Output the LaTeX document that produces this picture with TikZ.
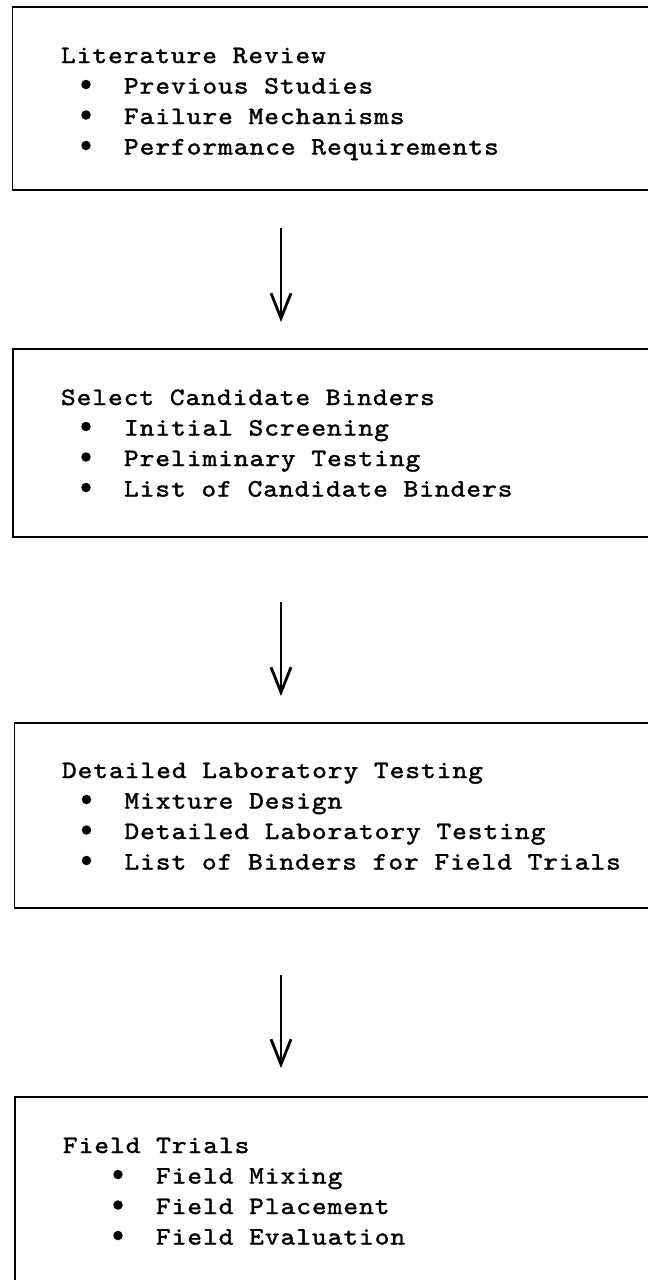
\documentclass[tikz,border=0pt]{standalone}
\usepackage{fontspec}
\newfontfamily\tw{lmmono10-regular.otf}[FakeStretch=1.12,LetterSpace=4.0,FakeBold=1.6]
\usetikzlibrary{arrows.meta}
\begin{document}
\begin{tikzpicture}[x=1pt,y=-1pt,
  box/.style={draw, line width=1.8pt, anchor=north west, minimum width=720pt, inner sep=0pt, outer sep=0pt},
  txt/.style={anchor=base west, inner sep=0pt, outer sep=0pt, font=\tw\fontsize{25}{29}\selectfont},
  bul/.style={circle, fill, inner sep=0pt, minimum size=9.5pt},
  arr/.style={line width=1.6pt, -{Straight Barb[length=25pt,width=20pt,line width=2.8pt]}}]
\path[use as bounding box, clip] (0,0) rectangle (648,1280);
\fill[white] (0,0) rectangle (648,1280);
% boxes
\node[box, minimum height=183pt] (b1) at (12.5,7) {};
\node[box, minimum height=188pt] (b2) at (13,349) {};
\node[box, minimum height=185pt] (b3) at (14.5,723) {};
\node[box, minimum height=250pt] (b4) at (15,1097) {};
% box 1
\node[txt] (t1) at (61,63) {Literature Review};
\node[bul] (d11) at (86,84.5) {};   \node[txt] (t11) at (124,93.5) {Previous Studies};
\node[bul] (d12) at (86,115) {};\node[txt] (t12) at (124,124) {Failure Mechanisms};
\node[bul] (d13) at (86,145.5) {};  \node[txt] (t13) at (124,154.5) {Performance Requirements};
% box 2
\node[txt] (t2) at (61,405) {Select Candidate Binders};
\node[bul] (d21) at (86,426.5) {};  \node[txt] (t21) at (124,435.5) {Initial Screening};
\node[bul] (d22) at (86,457) {};\node[txt] (t22) at (124,466) {Preliminary Testing};
\node[bul] (d23) at (86,487.5) {};  \node[txt] (t23) at (124,496.5) {List of Candidate Binders};
% box 3
\node[txt] (t3) at (62,778) {Detailed Laboratory Testing};
\node[bul] (d31) at (86.5,799.5) {};  \node[txt] (t31) at (124.5,808.5) {Mixture Design};
\node[bul] (d32) at (86.5,830) {};\node[txt] (t32) at (124.5,839) {Detailed Laboratory Testing};
\node[bul] (d33) at (86.5,860.5) {};  \node[txt] (t33) at (124.5,869.5) {List of Binders for Field Trials};
% box 4
\node[txt] (t4) at (63,1153) {Field Trials};
\node[bul] (d41) at (118,1174.5) {};  \node[txt] (t41) at (156,1183.5) {Field Mixing};
\node[bul] (d42) at (118,1205) {};\node[txt] (t42) at (156,1214) {Field Placement};
\node[bul] (d43) at (118,1235.5) {};  \node[txt] (t43) at (156,1244.5) {Field Evaluation};
% arrows
\coordinate (ax) at (281,0);
\draw[arr, shorten <=38pt, shorten >=27pt] (b1.south -| ax) -- (b2.north -| ax);
\draw[arr, shorten <=65pt, shorten >=27pt] (b2.south -| ax) -- (b3.north -| ax);
\draw[arr, shorten <=67pt, shorten >=29pt] (b3.south -| ax) -- (b4.north -| ax);
\end{tikzpicture}
\end{document}
